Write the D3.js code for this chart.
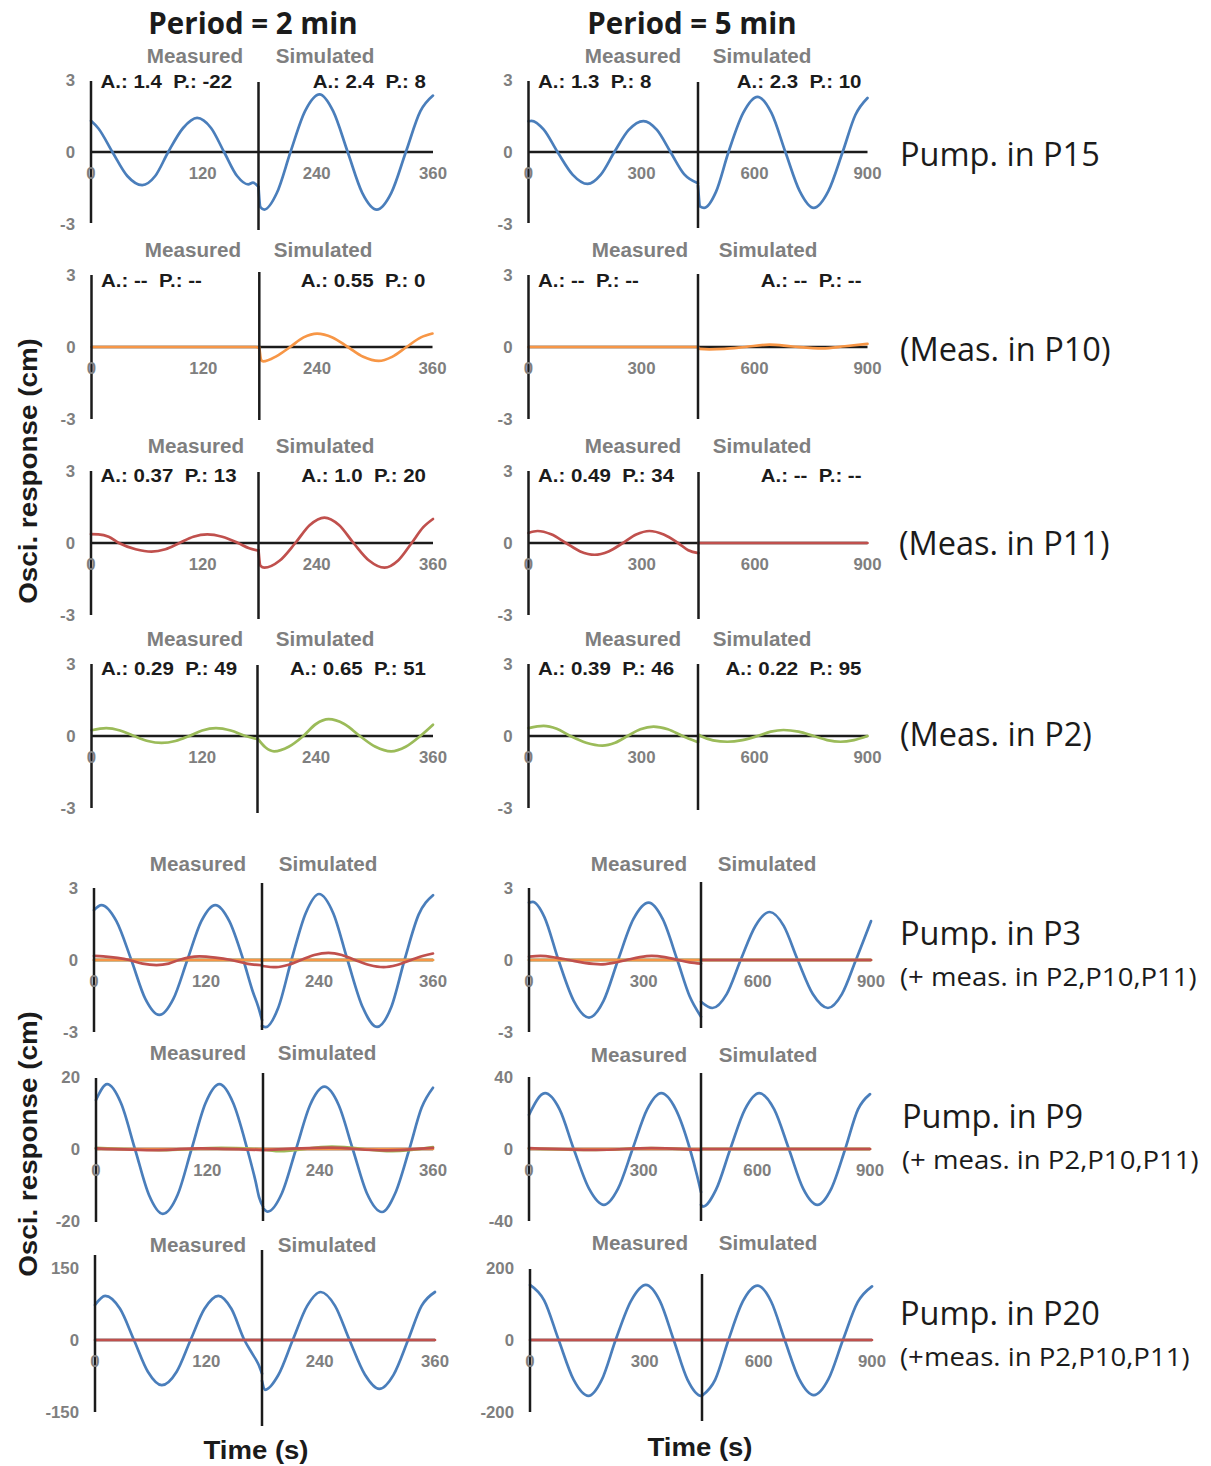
<!DOCTYPE html>
<html>
<head>
<meta charset="utf-8">
<script src="https://cdn.jsdelivr.net/npm/d3@7"></script>
<style>
  html, body { margin: 0; padding: 0; background: #ffffff; }
  svg { display: block; }
</style>
</head>
<body>
<script>
// ---------------- DATA ----------------
const columnTitles = ["Period = 2 min", "Period = 5 min"];
const rowLabels = ["Pump. in P15", "(Meas. in P10)", "(Meas. in P11)", "(Meas. in P2)", "Pump. in P3", "Pump. in P9", "Pump. in P20"];
const rowSubLabels = [null, null, null, null, "(+ meas. in P2,P10,P11)", "(+ meas. in P2,P10,P11)", "(+meas. in P2,P10,P11)"];
const yTitle = "Osci. response (cm)";
const xTitle = "Time (s)";
const measuredLabel = "Measured";
const simulatedLabel = "Simulated";
const xTicks = [[0, 120, 240, 360], [0, 300, 600, 900]];
const yTicks = [
  [[-3, 0, 3], [-3, 0, 3]],
  [[-3, 0, 3], [-3, 0, 3]],
  [[-3, 0, 3], [-3, 0, 3]],
  [[-3, 0, 3], [-3, 0, 3]],
  [[-3, 0, 3], [-3, 0, 3]],
  [[-20, 0, 20], [-40, 0, 40]],
  [[-150, 0, 150], [-200, 0, 200]]
];
const measAnnot = [
  ["A.: 1.4  P.: -22", "A.: 1.3  P.: 8"],
  ["A.: --  P.: --", "A.: --  P.: --"],
  ["A.: 0.37  P.: 13", "A.: 0.49  P.: 34"],
  ["A.: 0.29  P.: 49", "A.: 0.39  P.: 46"]
];
const simAnnot = [
  ["A.: 2.4  P.: 8", "A.: 2.3  P.: 10"],
  ["A.: 0.55  P.: 0", "A.: --  P.: --"],
  ["A.: 1.0  P.: 20", "A.: --  P.: --"],
  ["A.: 0.65  P.: 51", "A.: 0.22  P.: 95"]
];

// Row 1: Pump in P15 (blue)
const p15_2_blue_meas = [[0,1.3],[8,0.98],[23,0],[39,-1.0],[55,-1.38],[69,-1.0],[83,0],[99,1.0],[114,1.42],[129,1.0],[143,0],[157,-1.0],[169,-1.35],[174,-1.28],[180,-1.45]];
const p15_2_blue_sim  = [[180,-1.45],[182,-2.3],[186,-2.4],[199,-1.7],[213,0],[228,1.7],[243,2.4],[257,1.7],[272,0],[287,-1.7],[302,-2.4],[317,-1.7],[332,0],[347,1.7],[360,2.35]];
const p15_5_blue_meas = [[0,1.28],[8,1.3],[40,0.94],[77,0],[117,-0.94],[157,-1.33],[192,-0.94],[228,0],[266,0.92],[305,1.29],[341,0.92],[377,0],[413,-0.92],[450,-1.3]];
const p15_5_blue_sim  = [[450,-1.4],[456,-2.28],[466,-2.33],[498,-1.65],[531,0],[570,1.63],[608,2.3],[645,1.63],[682,0],[720,-1.63],[757,-2.33],[796,-1.63],[834,0],[868,1.55],[900,2.25]];
// Row 2: P10 (orange)
const p10_2_orange_meas = [[0,0],[176,0],[180,-0.05]];
const p10_2_orange_sim  = [[180,0],[182,-0.55],[184,-0.6],[198,-0.38],[212,0],[226,0.4],[240,0.56],[256,0.4],[272,0],[288,-0.41],[304,-0.58],[318,-0.41],[333,0],[348,0.4],[360,0.56]];
const p10_5_orange_meas = [[0,0],[450,0]];
const p10_5_orange_sim  = [[450,0],[455,-0.08],[480,-0.1],[520,-0.08],[575,0],[640,0.1],[700,0.02],[780,-0.06],[840,0.03],[900,0.13]];
// Row 3: P11 (red)
const p11_2_red_meas = [[0,0.37],[8,0.36],[19,0.26],[30,0],[48,-0.26],[65,-0.36],[80,-0.26],[95,0],[110,0.26],[125,0.36],[141,0.26],[158,0],[170,-0.22],[180,-0.32]];
const p11_2_red_sim  = [[180,-0.3],[182,-0.95],[186,-1.03],[202,-0.73],[218,0],[233,0.75],[248,1.06],[263,0.75],[278,0],[294,-0.73],[310,-1.03],[324,-0.73],[338,0],[350,0.66],[360,1.0]];
const p11_5_red_meas = [[0,0.42],[24,0.5],[60,0.36],[99,0],[137,-0.35],[175,-0.49],[212,-0.35],[250,0],[285,0.35],[320,0.5],[358,0.35],[396,0],[423,-0.3],[450,-0.42]];
const p11_5_red_sim  = [[450,0],[900,0]];
// Row 4: P2 (green)
const p2_2_green_meas = [[0,0.24],[16,0.33],[31,0.23],[46,0],[61,-0.21],[76,-0.29],[91,-0.21],[106,0],[120,0.23],[135,0.33],[151,0.23],[167,0],[180,-0.13]];
const p2_2_green_sim  = [[180,-0.1],[188,-0.47],[197,-0.64],[212,-0.45],[227,0],[240,0.5],[253,0.7],[269,0.5],[285,0],[301,-0.45],[317,-0.64],[332,-0.45],[347,0],[360,0.47]];
const p2_5_green_meas = [[0,0.33],[40,0.42],[75,0.3],[111,0],[153,-0.28],[196,-0.4],[230,-0.28],[263,0],[297,0.28],[332,0.39],[370,0.28],[409,0],[450,-0.26]];
const p2_5_green_sim  = [[450,-0.25],[452,0.05],[460,-0.02],[490,-0.18],[528,-0.24],[568,-0.17],[608,0],[643,0.18],[677,0.25],[717,0.18],[757,0],[793,-0.17],[828,-0.24],[864,-0.17],[900,0]];
// Row 5: Pump in P3
const p3_2_blue_meas = [[0,2.08],[8,2.29],[24,1.62],[40,0],[55,-1.62],[70,-2.29],[85,-1.62],[100,0],[115,1.62],[130,2.29],[145,1.62],[160,0],[170,-1.3],[176,-1.95],[180,-2.5]];
const p3_2_blue_sim  = [[180,-2.75],[184,-2.8],[197,-2.0],[211,0],[226,1.95],[240,2.75],[255,1.95],[270,0],[286,-1.97],[301,-2.79],[316,-1.97],[330,0],[345,1.9],[360,2.7]];
const p3_2_red_meas = [[0,0.17],[10,0.15],[38,0],[52,-0.15],[67,-0.21],[80,-0.15],[91,0],[102,0.11],[113,0.15],[130,0.1],[147,0],[165,-0.16],[180,-0.22]];
const p3_2_red_sim  = [[180,-0.25],[195,-0.3],[208,-0.2],[221,0],[235,0.21],[250,0.3],[264,0.21],[278,0],[293,-0.21],[308,-0.3],[322,-0.21],[337,0],[350,0.18],[360,0.27]];
const p3_2_orange_meas = [[0,0],[180,0]];
const p3_2_orange_sim  = [[180,0],[360,0]];
const p3_2_green_meas = [[0,0],[180,0]];
const p3_2_green_sim  = [[180,0],[360,0]];
const p3_5_blue_meas = [[0,2.39],[10,2.42],[40,1.8],[77,0],[117,-1.7],[157,-2.4],[195,-1.7],[233,0],[273,1.7],[313,2.39],[350,1.7],[388,0],[420,-1.5],[450,-2.36]];
const p3_5_blue_sim  = [[450,-1.74],[480,-2.0],[518,-1.42],[555,0],[594,1.42],[632,2.0],[669,1.42],[706,0],[746,-1.42],[786,-2.0],[823,-1.42],[860,0],[900,1.62]];
const p3_5_red_meas = [[0,0.14],[30,0.17],[70,0.1],[105,0],[145,-0.12],[188,-0.18],[220,-0.12],[255,0],[290,0.12],[321,0.17],[355,0.12],[390,0],[420,-0.1],[450,-0.15]];
const p3_5_red_sim  = [[450,0],[900,0]];
const p3_5_orange_meas = [[0,0],[450,0]];
const p3_5_orange_sim  = [[450,0],[900,0]];
const p3_5_green_meas = [[0,0],[450,0]];
const p3_5_green_sim  = [[450,0],[900,0]];
// Row 6: Pump in P9
const p9_2_blue_meas = [[0,13.6],[12,18.0],[27,12.7],[42,0],[57,-12.7],[72,-18.0],[88,-12.7],[103,0],[118,12.7],[133,18.0],[148,12.7],[163,0],[172,-9],[176,-13.6],[180,-16]];
const p9_2_blue_sim  = [[180,-16.4],[185,-17.4],[200,-12.3],[215,0],[230,12.3],[245,17.3],[260,12.3],[275,0],[290,-12.3],[306,-17.5],[320,-12.3],[335,0],[348,11.5],[360,17.0]];
const p9_2_green_meas = [[0,0.3],[76,-0.3],[135,0.3],[180,-0.1]];
const p9_2_green_sim  = [[180,-0.1],[197,-0.6],[253,0.7],[317,-0.6],[360,0.5]];
const p9_2_orange_meas = [[0,0],[180,0]];
const p9_2_orange_sim  = [[180,0],[360,0]];
const p9_2_red_meas = [[0,0.2],[67,-0.3],[113,0.2],[180,-0.3]];
const p9_2_red_sim  = [[180,-0.3],[250,0.4],[308,-0.4],[360,0.3]];
const p9_5_blue_meas = [[0,19],[42,31],[80,22],[117,0],[157,-22],[196,-31],[233,-22],[271,0],[309,22],[346,31],[384,22],[421,0],[440,-15],[450,-24]];
const p9_5_blue_sim  = [[450,-31],[455,-32],[490,-22.6],[528,0],[567,22],[605,31],[645,22],[684,0],[722,-22],[760,-31],[797,-22],[834,0],[868,22],[900,30.5]];
const p9_5_green_meas = [[0,0.4],[175,-0.5],[320,0.5],[450,-0.4]];
const p9_5_green_sim  = [[450,0],[900,0]];
const p9_5_orange_meas = [[0,0],[450,0]];
const p9_5_orange_sim  = [[450,0],[900,0]];
const p9_5_red_meas = [[0,0.5],[175,-0.5],[320,0.5],[450,-0.5]];
const p9_5_red_sim  = [[450,0],[900,0]];
// Row 7: Pump in P20
const p20_2_blue_meas = [[0,73],[11,92],[27,65],[42,0],[57,-66],[72,-94],[88,-66],[103,0],[118,65],[133,92],[147,65],[161,0],[170,-30],[176,-50],[180,-70]];
const p20_2_blue_sim  = [[180,-85],[183,-104],[197,-73],[212,0],[227,71],[241,100],[256,71],[271,0],[287,-72],[302,-102],[317,-72],[332,0],[346,71],[360,100]];
const p20_2_red_meas = [[0,0],[180,0]];
const p20_2_red_sim  = [[180,0],[360,0]];
const p20_5_blue_meas = [[0,153],[37,110],[75,0],[114,-110],[153,-155],[188,-110],[224,0],[264,108],[303,153],[340,108],[376,0],[412,-110],[448,-155],[450,-155]];
const p20_5_blue_sim  = [[450,-155],[485,-110],[520,0],[558,107],[597,151],[633,107],[669,0],[707,-108],[746,-153],[785,-108],[823,0],[862,105],[900,149]];
const p20_5_red_meas = [[0,0],[450,0]];
const p20_5_red_sim  = [[450,0],[900,0]];

const panels = [
  {row:0, col:0, series:[["blue", p15_2_blue_meas, p15_2_blue_sim]]},
  {row:0, col:1, series:[["blue", p15_5_blue_meas, p15_5_blue_sim]]},
  {row:1, col:0, series:[["orange", p10_2_orange_meas, p10_2_orange_sim]]},
  {row:1, col:1, series:[["orange", p10_5_orange_meas, p10_5_orange_sim]]},
  {row:2, col:0, series:[["red", p11_2_red_meas, p11_2_red_sim]]},
  {row:2, col:1, series:[["red", p11_5_red_meas, p11_5_red_sim]]},
  {row:3, col:0, series:[["green", p2_2_green_meas, p2_2_green_sim]]},
  {row:3, col:1, series:[["green", p2_5_green_meas, p2_5_green_sim]]},
  {row:4, col:0, series:[["blue", p3_2_blue_meas, p3_2_blue_sim],["green", p3_2_green_meas, p3_2_green_sim],["orange", p3_2_orange_meas, p3_2_orange_sim],["red", p3_2_red_meas, p3_2_red_sim]]},
  {row:4, col:1, series:[["blue", p3_5_blue_meas, p3_5_blue_sim],["green", p3_5_green_meas, p3_5_green_sim],["orange", p3_5_orange_meas, p3_5_orange_sim],["red", p3_5_red_meas, p3_5_red_sim]]},
  {row:5, col:0, series:[["blue", p9_2_blue_meas, p9_2_blue_sim],["green", p9_2_green_meas, p9_2_green_sim],["orange", p9_2_orange_meas, p9_2_orange_sim],["red", p9_2_red_meas, p9_2_red_sim]]},
  {row:5, col:1, series:[["blue", p9_5_blue_meas, p9_5_blue_sim],["green", p9_5_green_meas, p9_5_green_sim],["orange", p9_5_orange_meas, p9_5_orange_sim],["red", p9_5_red_meas, p9_5_red_sim]]},
  {row:6, col:0, series:[["blue", p20_2_blue_meas, p20_2_blue_sim],["red", p20_2_red_meas, p20_2_red_sim]]},
  {row:6, col:1, series:[["blue", p20_5_blue_meas, p20_5_blue_sim],["red", p20_5_red_meas, p20_5_red_sim]]}
];

// ---------------- STYLE / LAYOUT ----------------
const colors = {blue:"#4a7ebb", orange:"#f79646", red:"#c0504d", green:"#9bbb59"};
const W = 1211, H = 1466;
const zeroY = [152, 347, 543, 736, 960, 1149, 1340];
const halfH = 72;
// [x0, mid, x1] per row, per column
const xGeom = [
  [[91, 258.5, 433], [528.5, 698, 867.5]],
  [[91.5, 259.3, 432.5], [528.5, 698, 867.5]],
  [[91, 258.5, 433], [528.5, 698.5, 867.5]],
  [[91.5, 257.5, 433], [528.5, 698, 867.5]],
  [[94, 262, 433], [529, 701, 871]],
  [[96, 263, 433], [529, 701, 870]],
  [[95, 262, 435], [530, 702, 872]]
];
// midline vertical extents (offset above, below zero)
const midExt = [
  [[70,78],[70,76]], [[75,73],[73,72]], [[71,76],[71,76]], [[71,77],[72,74]],
  [[77,70],[78,68]], [[76,72],[76,72]], [[90,86],[66,81]]
];
const leftExt = [
  [[71,71],[71,71]], [[72,72],[72,72]], [[72,72],[72,72]], [[72,72],[72,72]],
  [[72,72],[72,72]], [[71,73],[72,72]], [[85,72],[71,72]]
];
const labelY = [[63,63],[257,257],[453,453],[646,646],[871,871],[1060,1062],[1252,1250]];
const measLabelX = [[195,633],[193,640],[196,633],[195,633],[198,639],[198,639],[198,640]];
const simLabelX  = [[325,762],[323,768],[325,762],[325,762],[328,767],[327,768],[327,768]];
const annotY = [88, 287, 482, 675];
const rowLabelY = [166, 361, 555, 746, 945, 1128, 1325];
const rowSubY = [null, null, null, null, 986, 1169, 1366];
const rowLabelX = [900, 900, 899, 900, 900, 902, 900];

const SANS = "'Liberation Sans', Arial, Helvetica, sans-serif";
const CAL = "'Open Sans', 'Noto Sans', sans-serif";
const GRAY = "#7f7f7f";
const INK = "#1b1b1b";

const svg = d3.select("body").append("svg").attr("width", W).attr("height", H);

function txt(parent, x, y, s, o) {
  const g = parent.append("g").attr("transform", `translate(${x},${y})${o.rot ? " rotate(" + o.rot + ")" : ""} scale(${o.sx || 1},1)`);
  return g.append("text")
    .attr("text-anchor", o.anchor || "start")
    .attr("dominant-baseline", o.db || "alphabetic")
    .attr("font-family", o.ff || SANS)
    .attr("font-size", o.fs)
    .attr("font-weight", o.fw || "normal")
    .attr("fill", o.fill || INK)
    .style("white-space", "pre")
    .text(s);
}

// column titles
txt(svg, 253, 33.5, columnTitles[0], {anchor:"middle", ff:CAL, fs:29.5, fw:700, fill:INK});
txt(svg, 692, 33.5, columnTitles[1], {anchor:"middle", ff:CAL, fs:29.5, fw:700, fill:INK});

// panels
panels.forEach(p => {
  const r = p.row, c = p.col;
  const [x0, mid, x1] = xGeom[r][c];
  const tEnd = xTicks[c][3];
  const tHalf = tEnd / 2;
  const yMax = yTicks[r][c][2];
  const x = d3.scaleLinear().domain([0, tHalf, tEnd]).range([x0, mid, x1]);
  const y = d3.scaleLinear().domain([-yMax, yMax]).range([zeroY[r] + halfH, zeroY[r] - halfH]);
  const g = svg.append("g");

  // zero line
  g.append("line").attr("x1", x0).attr("x2", x1).attr("y1", y(0)).attr("y2", y(0))
    .attr("stroke", INK).attr("stroke-width", 2.5);

  // curves
  const line = d3.line().x(d => x(d[0])).y(d => y(d[1])).curve(d3.curveMonotoneX);
  p.series.forEach(([col, meas, sim]) => {
    [meas, sim].forEach(arr => {
      g.append("path").attr("d", line(arr)).attr("fill", "none")
        .attr("stroke", colors[col]).attr("stroke-width", 2.7)
        .attr("stroke-linejoin", "round").attr("stroke-linecap", "round");
    });
  });

  // left axis and midline
  g.append("line").attr("x1", x0).attr("x2", x0)
    .attr("y1", zeroY[r] - leftExt[r][c][0]).attr("y2", zeroY[r] + leftExt[r][c][1])
    .attr("stroke", INK).attr("stroke-width", 2.5);
  g.append("line").attr("x1", x(tHalf)).attr("x2", x(tHalf))
    .attr("y1", zeroY[r] - midExt[r][c][0]).attr("y2", zeroY[r] + midExt[r][c][1])
    .attr("stroke", INK).attr("stroke-width", 2.5);

  // y tick labels
  yTicks[r][c].forEach(v => {
    txt(g, x0 - 16, y(v), String(v), {anchor:"end", db:"central", fs:16, fw:700, fill:GRAY, sx:1.05});
  });
  // x tick labels
  xTicks[c].forEach(v => {
    txt(g, x(v), zeroY[r] + 27, String(v), {anchor:"middle", fs:16, fw:700, fill:GRAY, sx:1.05});
  });

  // Measured / Simulated
  txt(g, measLabelX[r][c], labelY[r][c], measuredLabel, {anchor:"middle", fs:19.5, fw:700, fill:GRAY, sx:1.06});
  txt(g, simLabelX[r][c], labelY[r][c], simulatedLabel, {anchor:"middle", fs:19.5, fw:700, fill:GRAY, sx:1.06});

  // amplitude / phase annotations
  if (r < 4) {
    txt(g, x0 + 9.5, annotY[r], measAnnot[r][c], {anchor:"start", fs:17.5, fw:700, fill:INK, sx:1.17});
    txt(g, x1 - (c === 0 ? 7 : 6), annotY[r], simAnnot[r][c], {anchor:"end", fs:17.5, fw:700, fill:INK, sx:1.17});
  }
});

// right labels
rowLabels.forEach((s, i) => {
  txt(svg, rowLabelX[i], rowLabelY[i], s, {ff:CAL, fs:32.5, fill:INK});
  if (rowSubLabels[i]) txt(svg, rowLabelX[i], rowSubY[i], rowSubLabels[i], {ff:CAL, fs:26, fill:INK, sx:1.06});
});

// axis titles
txt(svg, 37, 471, yTitle, {anchor:"middle", rot:-90, fs:26, fw:700, fill:INK, sx:1.07});
txt(svg, 37, 1144, yTitle, {anchor:"middle", rot:-90, fs:26, fw:700, fill:INK, sx:1.07});
txt(svg, 256, 1459, xTitle, {anchor:"middle", fs:26.5, fw:700, fill:INK, sx:1.04});
txt(svg, 700, 1456, xTitle, {anchor:"middle", fs:26.5, fw:700, fill:INK, sx:1.04});
</script>
</body>
</html>
